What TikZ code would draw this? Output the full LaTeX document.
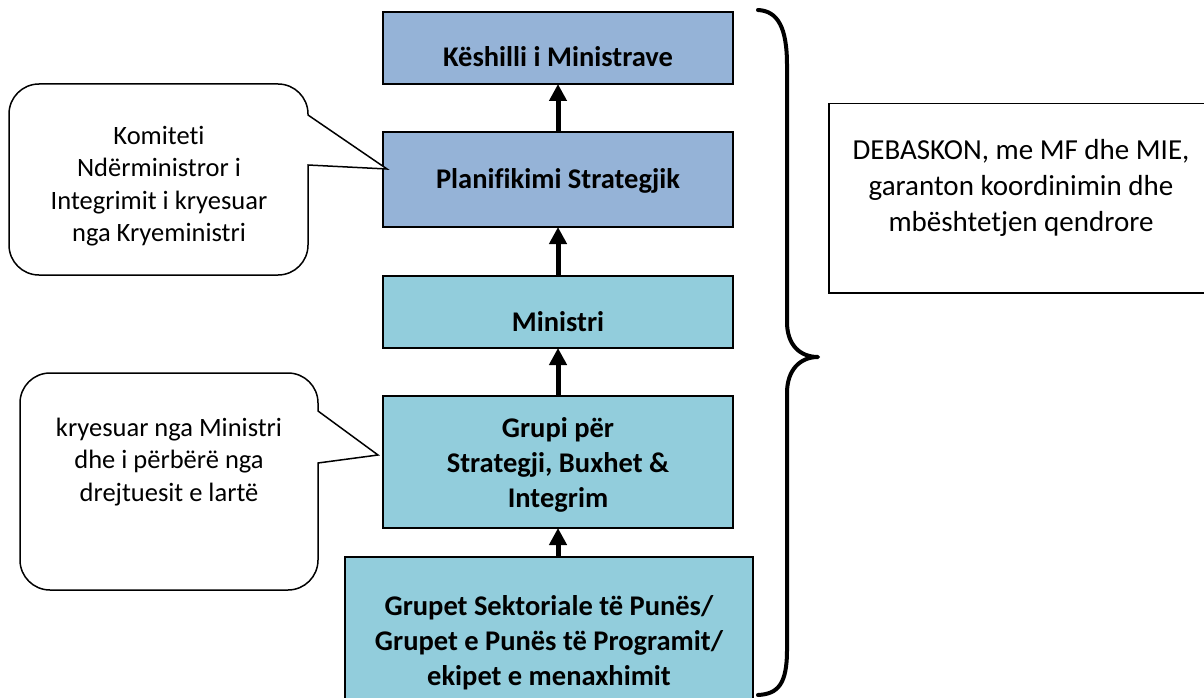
\documentclass[tikz,border=0pt]{standalone}
\usepackage{fontspec}
\setmainfont[Ligatures=NoCommon]{Carlito}
\usetikzlibrary{arrows.meta}
\definecolor{topblue}{HTML}{95B3D7}
\definecolor{aqua}{HTML}{92CDDC}
\tikzset{
  x=1pt, y=-1pt,
  box/.style={draw=black, line width=2pt, inner sep=0pt},
  ttl/.style={font=\fontsize{28.5}{35}\selectfont\bfseries, align=center, inner sep=0pt},
  ctext/.style={font=\fontsize{26.5}{32.5}\selectfont, align=center, inner sep=0pt},
  rtext/.style={font=\fontsize{29}{36}\selectfont, align=center, inner sep=0pt},
  bubble/.style={draw=black, line width=1.5pt, fill=white},
  arr/.style={line width=5pt, -{Triangle[length=17pt,width=17pt]}, shorten >=-1pt},
  bracestyle/.style={line width=4pt, line cap=round, line join=round}
}
\begin{document}
\begin{tikzpicture}
\useasboundingbox (0,0) rectangle (1204,698);
\fill[white] (0,0) rectangle (1204,698);
% boxes
\node[box, fill=topblue, minimum width=350pt, minimum height=72pt] (b1) at (558,48) {};
\node[box, fill=topblue, minimum width=350pt, minimum height=95pt] (b2) at (558,179.5) {};
\node[box, fill=aqua, minimum width=350pt, minimum height=72pt] (b3) at (558,312) {};
\node[box, fill=aqua, minimum width=350pt, minimum height=132pt] (b4) at (558,462) {};
\node[box, fill=aqua, minimum width=408pt, minimum height=150pt, anchor=north] (b5) at (549,556) {};
% titles
\node[ttl, anchor=base] (t1) at (558,67) {Këshilli i Ministrave};
\node[ttl, anchor=base] (t2) at (558,188) {Planifikimi Strategjik};
\node[ttl, anchor=base] (t3) at (558,331) {Ministri};
\node[ttl] (t4) at (558,465) {Grupi për\\Strategji, Buxhet \&\\Integrim};
\node[ttl] (t5) at (549,643) {Grupet Sektoriale të Punës/\\Grupet e Punës të Programit/\\ekipet e menaxhimit};
% arrows
\draw[arr] (b2.north) -- (b1.south);
\draw[arr] (b3.north) -- (b2.south);
\draw[arr] (b4.north) -- (b3.south);
\draw[arr] (b4.south |- b5.north) -- (b4.south);
% callout 1
\coordinate (p1) at (387,169);
\draw[bubble] (308,165) -- (p1) -- (308,115)
  [rounded corners=30pt] -- (308,84) -- (9,84) -- (9,275) -- (308,275) [sharp corners] -- cycle;
\node[ctext] (c1) at (159,186) {Komiteti\\Ndërministror i\\Integrimit i kryesuar\\nga Kryeministri};
% callout 2
\coordinate (p2) at (378,455);
\draw[bubble] (318,463) -- (p2) -- (318,411)
  [rounded corners=30pt] -- (318,373) -- (20,373) -- (20,590) -- (318,590) [sharp corners] -- cycle;
\node[ctext] (c2) at (169,462) {kryesuar nga Ministri\\dhe i përbërë nga\\drejtuesit e lartë};
% brace
\draw[bracestyle] (758,10) .. controls (778,11) and (787,28) .. (787,65)
  -- (787,322) .. controls (787,345) and (800,357) .. (818,357)
  .. controls (800,357) and (787,370) .. (787,393)
  -- (787,650) .. controls (787,684) and (778,694) .. (758,695);
% right box
\node[draw=black, line width=1.5pt, minimum width=386pt, minimum height=189pt, anchor=north west, inner sep=0pt] (r) at (828,103) {};
\node[rtext] (rt) at (1021,188) {DEBASKON, me MF dhe MIE,\\garanton koordinimin dhe\\mbështetjen qendrore};
\end{tikzpicture}
\end{document}
